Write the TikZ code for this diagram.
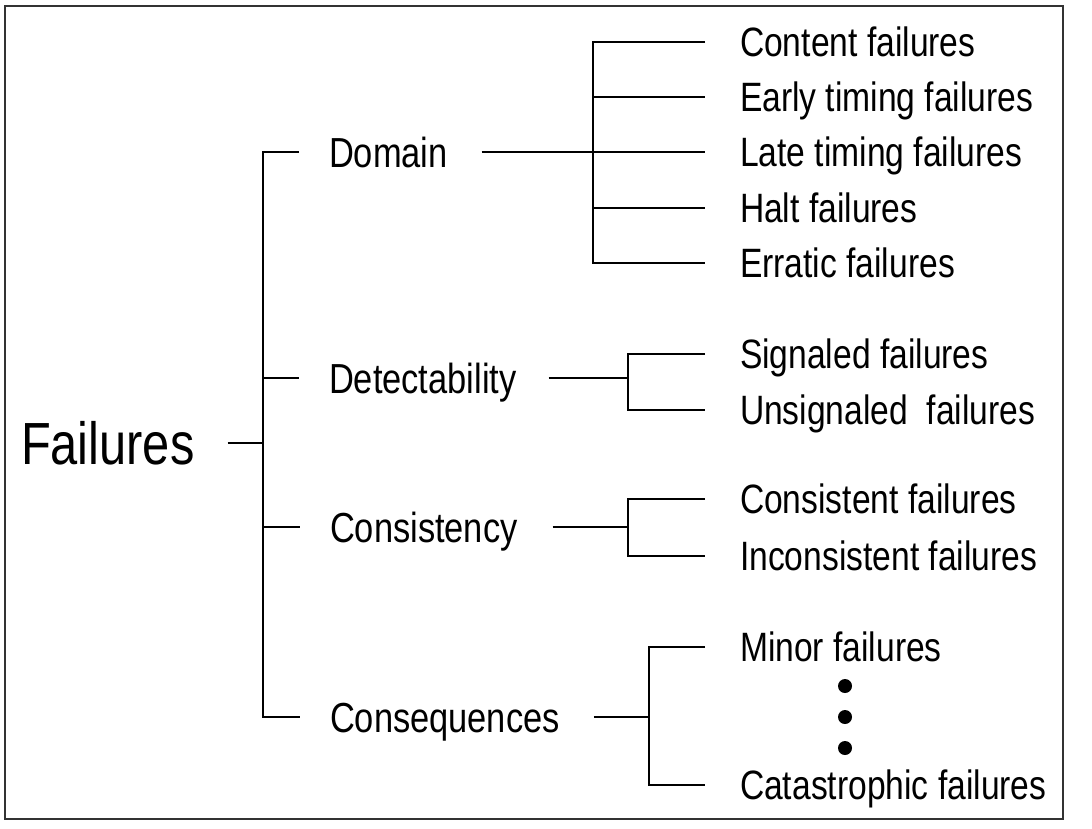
\documentclass[tikz,border=0pt]{standalone}
\usepackage{fontspec}
\setmainfont{Liberation Sans}[FakeStretch=0.82]

\begin{document}
\begin{tikzpicture}[x=1pt,y=-1pt,
  every node/.style={inner sep=0pt, outer sep=0pt, anchor=west, text depth=0pt},
  rootlabel/.style={font=\fontsize{59.5}{61}\selectfont, text height=42.5pt},
  catlabel/.style={font=\fontsize{42}{44}\selectfont, text height=30pt},
  leaflabel/.style={font=\fontsize{41}{43}\selectfont, text height=29.3pt},
  link/.style={line width=2.5pt, line join=miter},
  dot/.style={circle, fill=black, minimum size=14pt, anchor=center},
]
\useasboundingbox (0,0) rectangle (1092,828);
\draw[line width=2.2pt, black!80] (5,6) rectangle (1063,819);

% root and categories
\node[rootlabel] (fail) at (21,443) {Failures};
\node[catlabel] (dom) at (329,152) {Domain};
\node[catlabel] (det) at (329,378) {Detectability};
\node[catlabel] (con) at (330,527) {Consistency};
\node[catlabel] (seq) at (330,717) {Consequences};

% leaves
\node[leaflabel] (content) at (740,42)  {Content failures};
\node[leaflabel] (early)   at (740,97)  {Early timing failures};
\node[leaflabel] (late)    at (740,152) {Late timing failures};
\node[leaflabel] (halt)    at (740,208) {Halt failures};
\node[leaflabel] (erratic) at (740,263) {Erratic failures};
\node[leaflabel] (sig)     at (740,354) {Signaled failures};
\node[leaflabel] (unsig)   at (740,410) {Unsignaled\ \ failures};
\node[leaflabel] (cons)    at (740,499) {Consistent failures};
\node[leaflabel] (incons)  at (740,556) {Inconsistent failures};
\node[leaflabel] (minor)   at (740,647) {Minor failures};
\node[leaflabel] (cata)    at (740,785) {Catastrophic failures};

\node[dot] (d1) at (845,686) {};
\node[dot] (d2) at (845,717) {};
\node[dot] (d3) at (845,748) {};

% spines
\coordinate (rootspine) at (263,443);
\coordinate (domspine) at (593,152);
\coordinate (detspine) at (628,378);
\coordinate (conspine) at (628,527);
\coordinate (seqspine) at (649,717);

% root bracket
\draw[link] ([xshift=33pt]fail.east) -- (rootspine);
\draw[link] ([xshift=-30pt]dom.west) -| (rootspine |- seq.west) -- ([xshift=-30pt]seq.west);
\draw[link] (rootspine |- det.west) -- ([xshift=-30pt]det.west);
\draw[link] (rootspine |- con.west) -- ([xshift=-30pt]con.west);

% domain bracket
\draw[link] ([xshift=34pt]dom.east) -- (domspine);
\draw[link] ([xshift=-35pt]content.west) -| (domspine |- erratic.west) -- ([xshift=-35pt]erratic.west);
\draw[link] (domspine |- early.west) -- ([xshift=-35pt]early.west);
\draw[link] (domspine |- late.west) -- ([xshift=-35pt]late.west);
\draw[link] (domspine |- halt.west) -- ([xshift=-35pt]halt.west);

% detectability bracket
\draw[link] ([xshift=32pt]det.east) -- (detspine);
\draw[link] ([xshift=-35pt]sig.west) -| (detspine |- unsig.west) -- ([xshift=-35pt]unsig.west);

% consistency bracket
\draw[link] ([xshift=35pt]con.east) -- (conspine);
\draw[link] ([xshift=-35pt]cons.west) -| (conspine |- incons.west) -- ([xshift=-35pt]incons.west);

% consequences bracket
\draw[link] ([xshift=34pt]seq.east) -- (seqspine);
\draw[link] ([xshift=-35pt]minor.west) -| (seqspine |- cata.west) -- ([xshift=-35pt]cata.west);
\end{tikzpicture}
\end{document}
